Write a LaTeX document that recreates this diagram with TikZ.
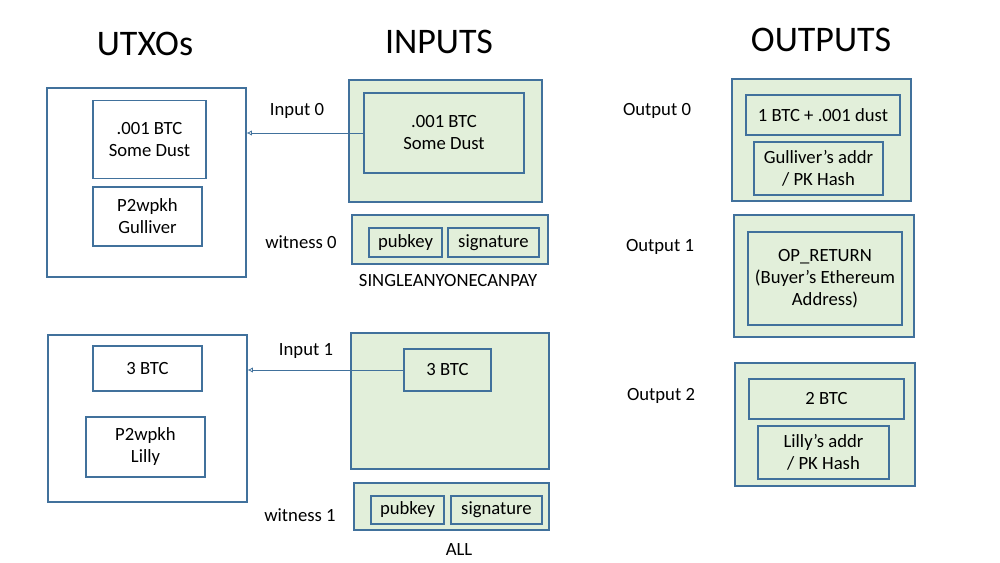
\documentclass[tikz,border=0pt]{standalone}
\usepackage{fontspec}
\setmainfont{Carlito}
\usetikzlibrary{arrows.meta}
\definecolor{bordc}{HTML}{41719C}
\definecolor{fillg}{HTML}{E2EFDA}
\tikzset{
  plainbox/.style={draw=bordc, line width=0.8pt, align=center, inner sep=0pt,
    font=\fontsize{14}{16.5}\selectfont},
  greenbox/.style={plainbox, fill=fillg},
  outerbox/.style={greenbox, line width=1.3pt},
  lbl/.style={font=\fontsize{14}{16.5}\selectfont, inner sep=0pt, yshift=-1.2pt},
  head/.style={font=\fontsize{27}{30}\selectfont, inner sep=0pt},
  arr/.style={draw=bordc, line width=0.6pt, -{Latex[open,length=4pt,width=4pt]}}
}
\begin{document}
\begin{tikzpicture}[x=0.75pt,y=-0.75pt]
\useasboundingbox (0,0) rectangle (1000,563);
% headings
\node[head] (hu) at (145,44) {UTXOs};
\node[head] (hi) at (439,42) {INPUTS};
\node[head] (ho) at (821,40) {OUTPUTS};
% UTXO boxes
\node[plainbox, minimum width=149.25pt, minimum height=141.75pt] (u0) at (146.5,182.5) {};
\node[plainbox, minimum width=84.75pt, minimum height=58.5pt] (u0a) at (149.5,139.5) {.001 BTC\\Some Dust};
\node[plainbox, minimum width=81.75pt, minimum height=44.25pt] (u0b) at (147.5,216.5) {P2wpkh\\Gulliver};
\node[plainbox, minimum width=149.25pt, minimum height=125.25pt] (u1) at (147.5,418.5) {};
\node[plainbox, minimum width=81.75pt, minimum height=33.75pt] (u1a) at (147.5,368.5) {3 BTC};
\node[plainbox, minimum width=89.25pt, minimum height=45pt] (u1b) at (145.5,447) {P2wpkh\\Lilly};
% inputs
\node[outerbox, minimum width=144.75pt, minimum height=91.5pt] (i0) at (445.5,141) {};
\node[greenbox, minimum width=120pt, minimum height=60pt] (i0a) at (444,133) {.001 BTC\\Some Dust};
\node[greenbox, minimum width=147pt, minimum height=36.75pt] (w0) at (450,239.5) {};
\node[greenbox, minimum width=54.75pt, minimum height=21.75pt] (w0a) at (405.5,242.5) {pubkey};
\node[greenbox, minimum width=68.25pt, minimum height=21.75pt] (w0b) at (493.5,242.5) {signature};
\node[lbl] (sa) at (448,279) {SINGLEANYONECANPAY};
\node[greenbox, minimum width=148.5pt, minimum height=102pt] (i1) at (450,401) {};
\node[greenbox, minimum width=65.25pt, minimum height=31.5pt] (i1a) at (447.5,370) {3 BTC};
\node[greenbox, minimum width=146.25pt, minimum height=35.25pt] (w1) at (451.5,506.5) {};
\node[greenbox, minimum width=54.75pt, minimum height=21pt] (w1a) at (407.5,510) {pubkey};
\node[greenbox, minimum width=68.25pt, minimum height=21pt] (w1b) at (496.5,510) {signature};
\node[lbl] (all) at (459,548) {ALL};
% input labels
\node[lbl] (li0) at (297,109) {Input 0};
\node[lbl] (lw0) at (301,241) {witness 0};
\node[lbl] (li1) at (306,349) {Input 1};
\node[lbl] (lw1) at (300,514) {witness 1};
% outputs
\node[outerbox, minimum width=134.25pt, minimum height=91.5pt] (o0) at (821.5,140) {};
\node[greenbox, minimum width=115.5pt, minimum height=30pt] (o0a) at (823,115) {1 BTC + .001 dust};
\node[greenbox, minimum width=96.75pt, minimum height=39.75pt] (o0b) at (818.5,168.5) {Gulliver’s addr\\/ PK Hash};
\node[outerbox, minimum width=135pt, minimum height=91.5pt] (o1) at (824,276) {};
\node[greenbox, minimum width=115.5pt, minimum height=69.75pt] (o1a) at (825,278.5) {OP\_RETURN\\(Buyer’s Ethereum\\Address)};
\node[outerbox, minimum width=135pt, minimum height=92.25pt] (o2) at (825,424.5) {};
\node[greenbox, minimum width=116.25pt, minimum height=30pt] (o2a) at (826.5,399) {2 BTC};
\node[greenbox, minimum width=98.25pt, minimum height=39.75pt] (o2b) at (823.5,452.5) {Lilly’s addr\\/ PK Hash};
\node[lbl] (lo0) at (657,109) {Output 0};
\node[lbl] (lo1) at (660,245) {Output 1};
\node[lbl] (lo2) at (661,394) {Output 2};
% connectors
\draw[arr] (i0a.west) -- (i0a.west -| u0.east);
\draw[arr] (i1a.west) -- (i1a.west -| u1.east);
\end{tikzpicture}
\end{document}
